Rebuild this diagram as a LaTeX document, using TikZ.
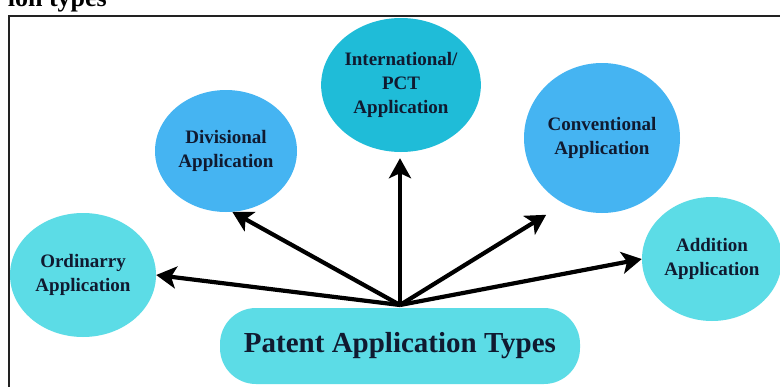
\documentclass[tikz,border=0pt]{standalone}
\usepackage{fontspec}
\setmainfont{Liberation Serif}
\usetikzlibrary{shapes.geometric,arrows.meta}
\definecolor{lightcyan}{HTML}{5CDCE6}
\definecolor{skyblue}{HTML}{45B4F2}
\definecolor{deepcyan}{HTML}{1FBCD8}
\definecolor{navytext}{HTML}{101A30}
\definecolor{framegray}{HTML}{222222}
\tikzset{
  bubble/.style={ellipse, draw=none, inner sep=0pt, align=center,
    text=navytext, font=\fontsize{19}{24}\selectfont\bfseries},
  conn/.style={line width=4.2pt, arrows={-Stealth[length=20pt,width=22pt,inset=5pt]}},
}
\begin{document}
\begin{tikzpicture}[x=1pt,y=-1pt]
\useasboundingbox (0,0) rectangle (780,386);
\clip (0,0) rectangle (780,386);
\fill[white] (0,0) rectangle (780,386);
% cut-off caption at the top
\node[anchor=base east, inner sep=0pt, font=\fontsize{26}{30}\selectfont\bfseries] (cap) at (107,6) {ion types};
% frame (only left and top edges visible)
\draw[framegray, line width=2pt] (8.5,400) -- (8.5,15.5) -- (800,15.5);
% bubbles
\node[bubble, fill=lightcyan, minimum width=146pt, minimum height=124pt] (ord) at (83,275) {Ordinarry\\Application};
\node[bubble, fill=skyblue, minimum width=142pt, minimum height=122pt] (div) at (226,151) {Divisional\\Application};
\node[bubble, fill=deepcyan, minimum width=140pt, minimum height=134pt] (int) at (401,85) {International/\\PCT\\Application};
\node[bubble, fill=skyblue, minimum width=156pt, minimum height=150pt] (conv) at (602,138) {Conventional\\Application};
\node[bubble, fill=lightcyan, minimum width=140pt, minimum height=124pt] (add) at (712,259) {Addition\\Application};
% central box
\node[rounded corners=36pt, fill=lightcyan, minimum width=360pt, minimum height=76pt, inner sep=0pt,
      text=navytext, font=\fontsize{29}{34}\selectfont\bfseries] (pat) at (400,346) {Patent Application Types};
\coordinate (hub) at (400,305);
% connectors
\draw[conn] (hub) -- (ord.east);
\draw[conn] (hub) -- (div.-84);
\draw[conn, shorten >=6pt] (hub) -- (hub |- int.south);
\draw[conn, shorten >=21pt] (hub) -- (conv.-120);
\draw[conn] (hub) -- (add.west);
\end{tikzpicture}
\end{document}
